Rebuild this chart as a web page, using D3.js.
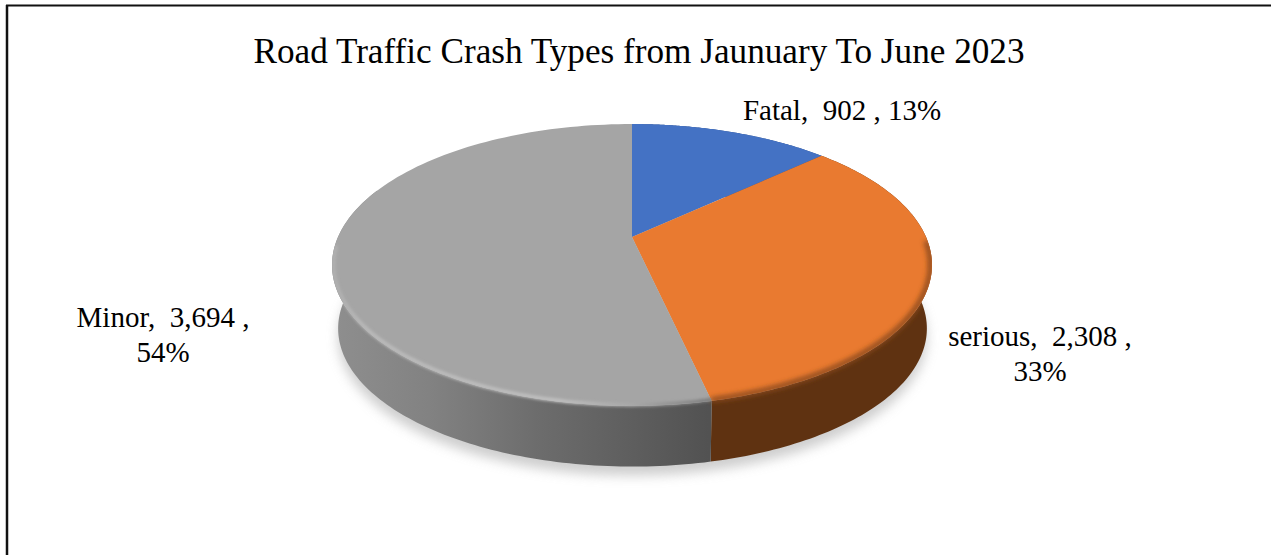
<!DOCTYPE html>
<html lang="en">
<head>
<meta charset="UTF-8">
<title>Road Traffic Crash Types</title>
<script src="https://d3js.org/d3.v7.min.js"></script>
<style>
    html, body { margin: 0; padding: 0; background: #fff; overflow: hidden; }
    text { font-family: "Liberation Serif", serif; fill: #000; white-space: pre; }
</style>
</head>
<body>
<svg id="chart" width="1271" height="555"></svg>
<script>
var title = "Road Traffic Crash Types from Jaunuary To June 2023";
var categories = ["Fatal", "serious", "Minor"];
var values = [902, 2308, 3694];
var percents = ["13%", "33%", "54%"];
var topColors = ["#4472c4", "#e97a30", "#a5a5a5"];
var sideColors = ["#2f4f88", "#5f3211", "url(#graySide)"];

var svg = d3.select("#chart");
var defs = svg.append("defs");

// pie angles, 0 = straight back, clockwise
var slices = d3.pie().sort(null).value(function(d) { return d; })(values);

// perspective projection of the flat disc onto the page
var persp = 0.1986;
function project(angle, r, disc) {
    var u = Math.sin(angle) * r, v = -Math.cos(angle) * r;
    var d = 1 - persp * v;
    return [disc.cx + disc.rx * u / d, disc.cy + disc.ry * v / d];
}
var topDisc = {cx: 632, cy: 237, rx: 294, ry: 135.4};
var lowDisc = {cx: 632.5, cy: 301, rx: 288.5, ry: 132.7};

var line = d3.line();
function arcPoints(a0, a1, r, disc) {
    return d3.range(0, 121).map(function(i) {
        return project(a0 + (a1 - a0) * i / 120, r, disc);
    });
}
var fullTop = line(arcPoints(0, 2 * Math.PI, 1, topDisc)) + "Z";
var fullLow = line(arcPoints(0, 2 * Math.PI, 1, lowDisc)) + "Z";

// side walls: only the front part of each slice shows
function sidePath(a0, a1) {
    var t = arcPoints(a0, a1, 1, topDisc);
    var b = arcPoints(a0, a1, 1, lowDisc).reverse();
    return line(t.concat(b)) + "Z";
}

// filters and gradients
function blur(id, dev) {
    defs.append("filter").attr("id", id)
        .attr("x", "-10%").attr("y", "-10%").attr("width", "120%").attr("height", "120%")
        .append("feGaussianBlur").attr("stdDeviation", dev);
}
blur("shadowBlur", 6);
blur("rimBlur", 1.5);
blur("rimBlurWide", 2.4);

function gradient(id, x1, x2, stops) {
    var g = defs.append("linearGradient").attr("id", id)
        .attr("gradientUnits", "userSpaceOnUse")
        .attr("x1", x1).attr("x2", x2).attr("y1", 0).attr("y2", 0);
    stops.forEach(function(s) {
        g.append("stop").attr("offset", s[0]).attr("stop-color", s[1]);
    });
}
gradient("graySide", 336, 708, [[0, "#8e8e8e"], [0.25, "#828282"], [0.55, "#6c6c6c"], [0.8, "#5e5e5e"], [1, "#525252"]]);
gradient("grayRim", 332, 708, [[0, "#b0b0b0"], [0.1, "#bcbcbc"], [0.6, "#c2c2c2"], [0.8, "#a8a8a8"], [1, "#7a7a7a"]]);

// keeps the blurred bevel from spilling onto the white page
var bodyClip = defs.append("clipPath").attr("id", "bodyClip");
bodyClip.append("path").attr("d", fullTop);
bodyClip.append("path").attr("d", sidePath(0.3 * Math.PI, 1.7 * Math.PI));

// frame, open on the right and bottom
svg.append("line").attr("x1", 6).attr("x2", 1271).attr("y1", 5.5).attr("y2", 5.5)
    .attr("stroke", "#111").attr("stroke-width", 2);
svg.append("line").attr("x1", 7).attr("x2", 7).attr("y1", 5).attr("y2", 555)
    .attr("stroke", "#111").attr("stroke-width", 2.5);

// soft shadow under the disc
svg.append("path").attr("d", fullLow)
    .attr("transform", "translate(0,9)")
    .attr("fill", "#bdbdbd").attr("opacity", 0.75)
    .attr("filter", "url(#shadowBlur)");

svg.append("g").selectAll("path").data(slices).enter().append("path")
    .attr("d", function(d) {
        return sidePath(d.startAngle, Math.min(d.endAngle, 1.62 * Math.PI));
    })
    .attr("fill", function(d, i) { return sideColors[i]; });

// top face
svg.append("g").selectAll("path").data(slices).enter().append("path")
    .attr("d", function(d) {
        return line([project(0, 0, topDisc)].concat(arcPoints(d.startAngle, d.endAngle, 1, topDisc))) + "Z";
    })
    .attr("fill", function(d, i) { return topColors[i]; });

// bevel round the front edge, soft and straddling the top/side border
var rim = svg.append("g").attr("clip-path", "url(#bodyClip)");
rim.append("path")
    .attr("d", line(arcPoints(1.6, slices[1].endAngle, 0.995, topDisc)))
    .attr("fill", "none").attr("stroke", "#8a4a1c").attr("stroke-width", 5)
    .attr("filter", "url(#rimBlurWide)");
rim.append("path")
    .attr("d", line(arcPoints(slices[2].startAngle, 1.48 * Math.PI, 0.995, topDisc)))
    .attr("fill", "none").attr("stroke", "url(#grayRim)").attr("stroke-width", 3.5)
    .attr("filter", "url(#rimBlur)");

// title and labels
svg.append("text").attr("x", 639).attr("y", 63).attr("text-anchor", "middle")
    .attr("font-size", 35.2).text(title);

var labelPos = [
    {x: 842, y: 120, two: false},
    {x: 1040, y: 346, two: true},
    {x: 163, y: 327, two: true}
];
var fmt = d3.format(",");
var labels = svg.append("g").attr("font-size", 29).attr("text-anchor", "middle");
categories.forEach(function(c, i) {
    var first = c + ",  " + fmt(values[i]) + " ,";
    var p = labelPos[i];
    if (p.two) {
        labels.append("text").attr("x", p.x).attr("y", p.y).text(first);
        labels.append("text").attr("x", p.x).attr("y", p.y + 35).text(percents[i]);
    } else {
        labels.append("text").attr("x", p.x).attr("y", p.y).text(first + " " + percents[i]);
    }
});
</script>
</body>
</html>
